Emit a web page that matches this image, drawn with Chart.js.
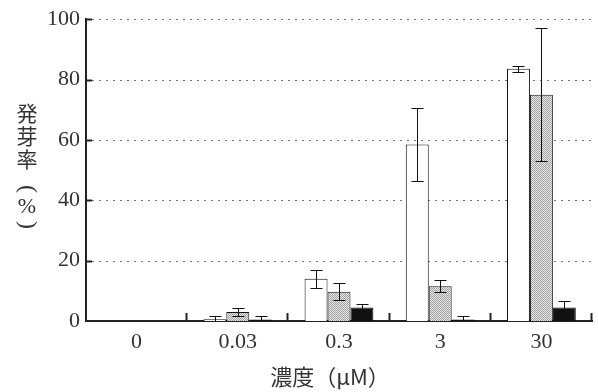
<!DOCTYPE html>
<html>
<head>
<meta charset="utf-8">
<script src="https://cdn.jsdelivr.net/npm/chart.js@4/dist/chart.umd.min.js"></script>
<style>
  html, body { margin: 0; padding: 0; background: #fff; }
  #wrap { width: 598px; height: 392px; }
</style>
</head>
<body>
<div id="wrap"><canvas id="chart"></canvas></div>
<script>
// concentrations (µM)
const labels = ['0', '0.03', '0.3', '3', '30'];

// germination rate (%) and error (±) for the three series
const whiteVals = [0, 0.6, 14, 58.5, 83.6];
const whiteErr  = [0, 0.9, 3, 12, 1];
const greyVals  = [0, 3, 9.7, 11.5, 75];
const greyErr   = [0, 1.3, 2.8, 2, 22];
const blackVals = [0, 0.5, 4.5, 0.5, 4.5];
const blackErr  = [0, 1, 1, 1.3, 2];

const yTicks = [0, 20, 40, 60, 80, 100];
const errors = [whiteErr, greyErr, blackErr];

const serif = '"Liberation Serif", "DejaVu Serif", serif';
const cjk = '"Noto Sans CJK JP", sans-serif';

// stippled grey fill like the printed figure
const makeStipple = () => {
  const c = document.createElement('canvas');
  c.width = 2; c.height = 2;
  const g = c.getContext('2d');
  g.fillStyle = '#e8e8e8';
  g.fillRect(0, 0, 2, 2);
  g.fillStyle = '#a0a0a0';
  g.fillRect(0, 0, 1, 1);
  g.fillRect(1, 1, 1, 1);
  return g.createPattern(c, 'repeat');
};

const gridAndTicks = {
  id: 'gridAndTicks',
  beforeDatasetsDraw(chart) {
    const { ctx, chartArea, scales } = chart;
    ctx.save();
    // dotted horizontal grid
    ctx.strokeStyle = '#777';
    ctx.lineWidth = 1;
    ctx.setLineDash([2, 5]);
    yTicks.forEach(v => {
      if (v === 0) return;
      const py = Math.round(scales.y.getPixelForValue(v)) + 0.5;
      ctx.beginPath();
      ctx.moveTo(chartArea.left + 6, py);
      ctx.lineTo(chartArea.right, py);
      ctx.stroke();
    });
    ctx.setLineDash([]);
    ctx.strokeStyle = '#222';
    ctx.lineWidth = 2;
    // inward ticks on y axis
    yTicks.forEach(v => {
      if (v === 0) return;
      const py = Math.round(scales.y.getPixelForValue(v)) + 0.5;
      ctx.beginPath();
      ctx.moveTo(chartArea.left, py);
      ctx.lineTo(chartArea.left + 6, py);
      ctx.stroke();
    });
    // upward ticks between categories on x axis
    const step = (chartArea.right - chartArea.left) / labels.length;
    for (let i = 1; i <= labels.length; i++) {
      const px = Math.round(chartArea.left + step * i) - 0.5;
      ctx.beginPath();
      ctx.moveTo(px, chartArea.bottom);
      ctx.lineTo(px, chartArea.bottom - 8);
      ctx.stroke();
    }
    ctx.restore();
  }
};

const errorBars = {
  id: 'errorBars',
  afterDatasetsDraw(chart) {
    const { ctx, scales } = chart;
    ctx.save();
    ctx.strokeStyle = '#111';
    ctx.lineWidth = 1;
    chart.data.datasets.forEach((ds, di) => {
      const meta = chart.getDatasetMeta(di);
      meta.data.forEach((bar, i) => {
        const e = errors[di][i];
        if (!e) return;
        const v = ds.data[i];
        const top = Math.round(scales.y.getPixelForValue(v + e)) + 0.5;
        const bot = Math.round(scales.y.getPixelForValue(Math.max(0, v - e))) + 0.5;
        const cx = Math.round(bar.x) + 0.5;
        ctx.beginPath();
        ctx.moveTo(cx, top); ctx.lineTo(cx, bot);
        ctx.moveTo(cx - 6, top); ctx.lineTo(cx + 6, top);
        if (v - e > 0) { ctx.moveTo(cx - 6, bot); ctx.lineTo(cx + 6, bot); }
        ctx.stroke();
      });
    });
    ctx.restore();
  }
};

const titles = {
  id: 'titles',
  afterDraw(chart) {
    const { ctx } = chart;
    ctx.save();
    ctx.fillStyle = '#333';
    ctx.textAlign = 'center';
    ctx.textBaseline = 'middle';
    ctx.font = '22px ' + cjk;
    ctx.fillText('濃度（μM）', 330, 377);
    // vertical y title: 発芽率（%）
    ctx.font = '21px ' + cjk;
    ctx.fillText('発', 27, 113);
    ctx.fillText('芽', 27, 136);
    ctx.fillText('率', 27, 159);
    ctx.font = '22px ' + serif;
    ctx.fillText('%', 27, 207);
    [['(', 189], [')', 225]].forEach(([p, y]) => {
      ctx.save();
      ctx.translate(27, y);
      ctx.rotate(Math.PI / 2);
      ctx.font = '24px ' + serif;
      ctx.fillText(p, 0, 0);
      ctx.restore();
    });
    ctx.restore();
  }
};

const ctx = document.getElementById('chart').getContext('2d');
new Chart(ctx, {
  type: 'bar',
  data: {
    labels: labels,
    datasets: [
      { label: 'A', data: whiteVals, backgroundColor: '#ffffff', borderColor: '#111', borderWidth: 1 },
      { label: 'B', data: greyVals, backgroundColor: makeStipple(), borderColor: '#111', borderWidth: 1 },
      { label: 'C', data: blackVals, backgroundColor: '#111111', borderColor: '#111', borderWidth: 1 },
    ],
  },
  options: {
    responsive: true,
    maintainAspectRatio: false,
    animation: false,
    layout: { padding: { left: 0, right: 6, top: 18, bottom: 0 } },
    categoryPercentage: 0.68,
    barPercentage: 1.0,
    plugins: {
      legend: { display: false },
      tooltip: { enabled: false },
    },
    scales: {
      x: {
        grid: { display: false, drawTicks: false },
        border: { display: true, color: '#222', width: 2 },
        ticks: { color: '#333', font: { family: serif, size: 22 }, padding: 8 },
        afterFit: (s) => { s.height = 71; },
      },
      y: {
        min: 0,
        max: 100,
        grid: { display: false, drawTicks: false },
        border: { display: true, color: '#222', width: 2 },
        ticks: { stepSize: 20, color: '#333', font: { family: serif, size: 22 }, padding: 6 },
        afterFit: (s) => { s.width = 86; },
      },
    },
  },
  plugins: [gridAndTicks, errorBars, titles],
});
</script>
</body>
</html>
